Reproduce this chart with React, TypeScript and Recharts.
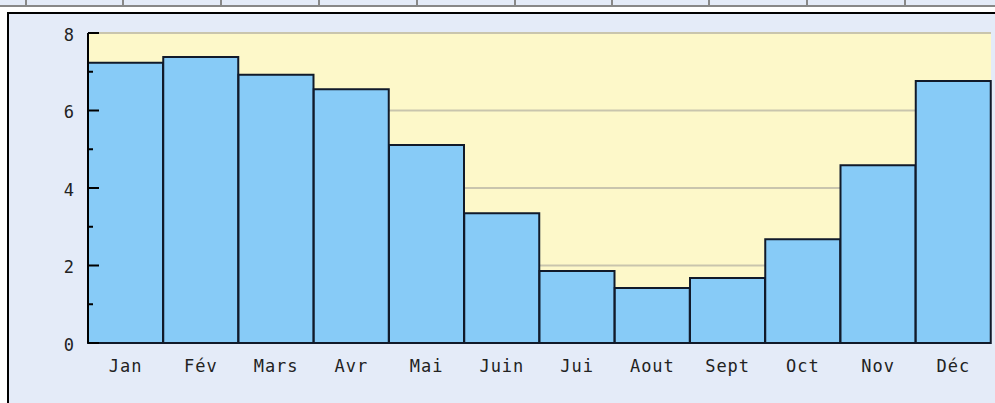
import { Bar, BarChart, CartesianGrid, XAxis, YAxis } from "recharts";

const months = ["Jan", "Fév", "Mars", "Avr", "Mai", "Juin", "Jui", "Aout", "Sept", "Oct", "Nov", "Déc"];
const values = [7.23, 7.38, 6.92, 6.55, 5.11, 3.35, 1.86, 1.42, 1.68, 2.68, 4.59, 6.76];
const yTicks = [0, 1, 2, 3, 4, 5, 6, 7, 8];
const gridValues = [2, 4, 6, 8];
const topCells = [0, 25, 122, 220, 318, 416, 514, 611, 708, 806, 904];

const data = months.map((m, i) => ({ month: m, value: values[i] }));

const font = "'DejaVu Sans Mono', monospace";
const Y_MARGIN = 14;

function YTick(props: any) {
  const { x, y, payload } = props;
  const v = payload.value as number;
  const major = v % 2 === 0;
  const ax = x + Y_MARGIN;
  return (
    <g>
      <line x1={ax} x2={ax + (major ? 11 : 5)} y1={y} y2={y} stroke="#000" strokeWidth={2} />
      {major && (
        <text x={x} y={y} dy="0.45em" textAnchor="end" fontFamily={font} fontSize={17} fill="#222">
          {v}
        </text>
      )}
    </g>
  );
}

export default function App() {
  return (
    <div style={{ position: "absolute", left: 0, top: 0, width: 995, height: 403, overflow: "hidden", background: "#fff" }}>
      {topCells.map((x, i) => (
        <div
          key={i}
          style={{
            position: "absolute",
            left: x,
            top: 0,
            width: i + 1 < topCells.length ? topCells[i + 1] - x : 995 - x,
            height: 7,
            background: "#e4ebf8",
            borderLeft: i === 0 ? "none" : "2px solid #888",
            borderBottom: "2px solid #888",
            boxSizing: "border-box",
          }}
        />
      ))}
      <div
        style={{
          position: "absolute",
          left: 7,
          top: 12,
          width: 1000,
          height: 400,
          background: "#e4ebf8",
          borderLeft: "2px solid #000",
          borderTop: "2px solid #000",
          boxSizing: "border-box",
        }}
      />
      <div style={{ position: "absolute", left: 0, top: 0 }}>
        <BarChart width={995} height={403} data={data} margin={{ top: 33, right: 4, bottom: 0, left: 28 }} barCategoryGap={0}>
          <CartesianGrid
            vertical={false}
            fill="#fdf8c9"
            fillOpacity={1}
            stroke="#c9c5ad"
            strokeWidth={2}
            horizontalValues={gridValues}
          />
          <Bar dataKey="value" fill="#87cbf7" stroke="#111a2a" strokeWidth={2} isAnimationActive={false} />
          <XAxis
            dataKey="month"
            height={60}
            axisLine={false}
            tickLine={false}
            tickSize={0}
            tickMargin={17}
            interval={0}
            tick={{ fontFamily: font, fontSize: 17, fill: "#222", letterSpacing: 1 }}
          />
          <YAxis
            width={60}
            domain={[0, 8]}
            ticks={yTicks}
            interval={0}
            tickSize={0}
            tickMargin={Y_MARGIN}
            tickLine={false}
            axisLine={{ stroke: "#000", strokeWidth: 2 }}
            tick={<YTick />}
          />
        </BarChart>
      </div>
    </div>
  );
}
